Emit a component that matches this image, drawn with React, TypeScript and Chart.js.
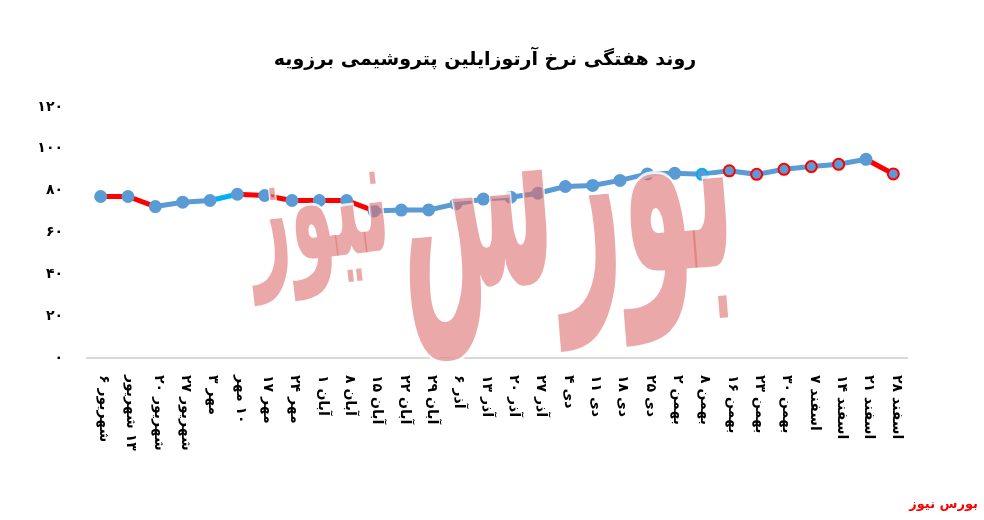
import React, { useEffect, useRef } from 'react';
import { Chart, registerables } from 'chart.js';

Chart.register(...registerables);

const chartTitle = 'روند هفتگی نرخ آرتوزایلین پتروشیمی برزویه';
const sourceText = 'بورس نیوز';
const watermarkWords = ['بورس', 'نیوز'];

const categories = [
  '۶ شهریور', '۱۳ شهریور', '۲۰ شهریور', '۲۷ شهریور', '۳ مهر', '۱۰ مهر', '۱۷ مهر', '۲۴ مهر',
  '۱ آبان', '۸ آبان', '۱۵ آبان', '۲۲ آبان', '۲۹ آبان', '۶ آذر', '۱۳ آذر', '۲۰ آذر', '۲۷ آذر',
  '۴ دی', '۱۱ دی', '۱۸ دی', '۲۵ دی', '۲ بهمن', '۸ بهمن', '۱۶ بهمن', '۲۳ بهمن', '۳۰ بهمن',
  '۷ اسفند', '۱۴ اسفند', '۲۱ اسفند', '۲۸ اسفند',
];
// labels that the original shows in right-to-left order
const rtlLabelIndexes = [1, 5];

const prices = [
  77.2, 77.2, 72.4, 74.5, 75.3, 78.3, 77.7, 75.3, 75.3, 75.3,
  70.3, 70.7, 70.8, 73.7, 76.0, 76.9, 78.8, 82.0, 82.5, 84.9,
  88.0, 88.3, 87.8, 89.5, 87.8, 90.2, 91.5, 92.6, 95.0, 88.0,
];

const RED = '#FF0000';
const BLUE = '#5B9BD5';
const CYAN = '#00B0F0';

// colour of the segment that starts at each point
const segmentColors = [
  RED, RED, BLUE, BLUE, CYAN, RED, RED, RED, RED, RED,
  BLUE, BLUE, BLUE, BLUE, BLUE, BLUE, BLUE, BLUE, BLUE, BLUE,
  BLUE, BLUE, BLUE, BLUE, BLUE, BLUE, BLUE, BLUE, RED,
];
const pointBorders = [
  BLUE, BLUE, BLUE, BLUE, BLUE, BLUE, BLUE, BLUE, BLUE, BLUE,
  BLUE, BLUE, BLUE, BLUE, BLUE, BLUE, BLUE, BLUE, BLUE, BLUE,
  BLUE, BLUE, CYAN, RED, RED, RED, RED, RED, BLUE, RED,
];

const yMin = 0;
const yMax = 120;
const yStep = 20;

const toFa = (v: number | string) => String(v).replace(/\d/g, (d) => '۰۱۲۳۴۵۶۷۸۹'[Number(d)]);

const FONT = '"DejaVu Sans", sans-serif';

function drawWord(ctx: any, word: string, cx: number, cy: number, size: number, sx: number, sy: number, rot: number) {
  ctx.save();
  ctx.translate(cx, cy);
  ctx.rotate(rot);
  ctx.scale(sx, sy);
  ctx.direction = 'rtl';
  ctx.textAlign = 'center';
  ctx.textBaseline = 'middle';
  ctx.font = `bold ${size}px ${FONT}`;
  ctx.lineWidth = 2.5;
  ctx.strokeStyle = 'rgba(255,255,255,0.85)';
  ctx.strokeText(word, 0, 0);
  ctx.fillStyle = 'rgba(222,110,110,0.6)';
  ctx.fillText(word, 0, 0);
  ctx.restore();
}

const decorPlugin = {
  id: 'decor',
  afterDatasetsDraw(chart: any) {
    const { ctx } = chart;
    drawWord(ctx, watermarkWords[0], 565, 200, 120, 0.95, 2.5, -0.08);
    drawWord(ctx, watermarkWords[1], 318, 215, 75, 0.95, 2.2, -0.12);
  },
  afterDraw(chart: any) {
    const { ctx, chartArea } = chart;
    const x = chart.scales.x;
    ctx.save();
    ctx.fillStyle = '#000';
    ctx.font = `bold 14px ${FONT}`;
    ctx.textAlign = 'left';
    ctx.textBaseline = 'middle';
    categories.forEach((lab, i) => {
      const px = x.getPixelForValue(i);
      ctx.save();
      ctx.translate(px + 3, chartArea.bottom + 17);
      ctx.rotate(Math.PI / 2);
      ctx.direction = rtlLabelIndexes.includes(i) ? 'rtl' : 'ltr';
      ctx.textAlign = 'left';
      ctx.fillText(lab, 0, 0);
      ctx.restore();
    });

    ctx.direction = 'rtl';
    ctx.textAlign = 'center';
    ctx.textBaseline = 'middle';
    ctx.font = `bold 19px ${FONT}`;
    ctx.fillText(chartTitle, 485, 60);

    ctx.fillStyle = '#FF0000';
    ctx.textAlign = 'right';
    ctx.direction = 'ltr';
    ctx.font = `bold 13px ${FONT}`;
    ctx.fillText(sourceText, 978, 505);
    ctx.restore();
  },
};

export default function App() {
  const ref = useRef<HTMLCanvasElement | null>(null);

  useEffect(() => {
    if (!ref.current) return;
    const chart = new Chart(ref.current, {
      type: 'line',
      data: {
        labels: categories,
        datasets: [
          {
            data: prices,
            borderColor: BLUE,
            borderWidth: 5,
            tension: 0,
            pointRadius: 5.5,
            pointBorderWidth: 2,
            pointBackgroundColor: BLUE,
            pointBorderColor: pointBorders,
            segment: {
              borderColor: (c: any) => segmentColors[c.p0DataIndex],
            },
          },
        ],
      },
      options: {
        responsive: false,
        animation: false,
        devicePixelRatio: 1,
        layout: { padding: { left: 20, right: 77, top: 107, bottom: 0 } },
        plugins: {
          legend: { display: false },
          tooltip: { enabled: false },
          title: { display: false },
        },
        scales: {
          x: {
            offset: true,
            grid: { display: false, drawTicks: false },
            border: { display: true, color: '#D9D9D9', width: 2 },
            ticks: { display: false },
            afterFit: (s: any) => {
              s.height = 162;
            },
          },
          y: {
            min: yMin,
            max: yMax,
            grid: { display: false, drawTicks: false },
            border: { display: false },
            ticks: {
              stepSize: yStep,
              padding: 24,
              color: '#000',
              font: { family: 'DejaVu Sans', size: 14, weight: 'bold' },
              callback: (v: any) => toFa(v),
            },
            afterFit: (s: any) => {
              s.width = 67;
            },
          },
        },
      },
      plugins: [decorPlugin],
    } as any);
    return () => chart.destroy();
  }, []);

  return (
    <div style={{ position: 'fixed', left: 0, top: 0, width: 984, height: 520, background: '#fff' }}>
      <canvas ref={ref} width={984} height={520} />
    </div>
  );
}
